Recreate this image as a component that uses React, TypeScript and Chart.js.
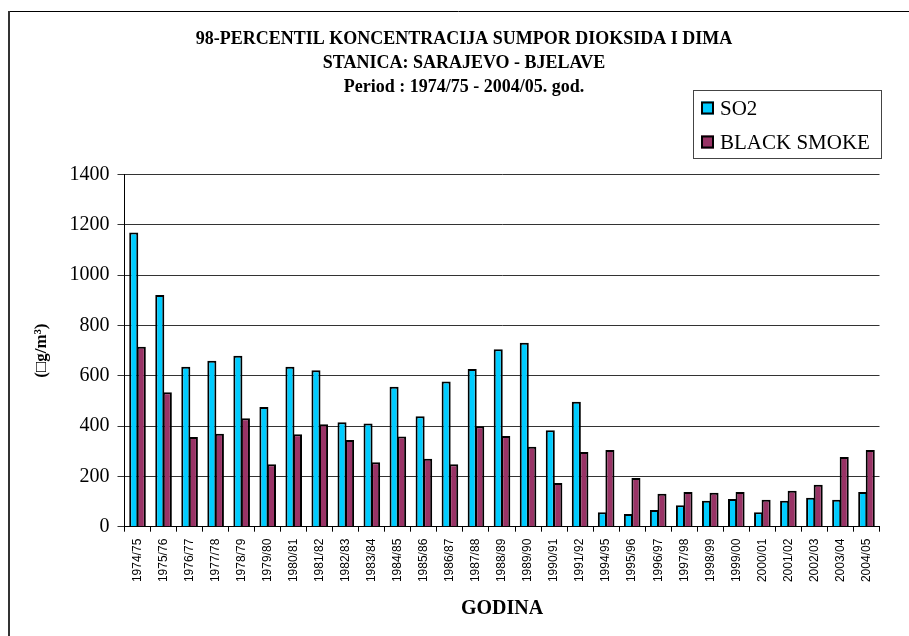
import React, { useEffect, useRef } from "react";
import { Chart, registerables } from "chart.js";

Chart.register(...registerables);

const categories = [
  "1974/75", "1975/76", "1976/77", "1977/78", "1978/79", "1979/80", "1980/81",
  "1981/82", "1982/83", "1983/84", "1984/85", "1985/86", "1986/87", "1987/88",
  "1988/89", "1989/90", "1990/91", "1991/92", "1994/95", "1995/96", "1996/97",
  "1997/98", "1998/99", "1999/00", "2000/01", "2001/02", "2002/03", "2003/04", "2004/05",
];

const so2Values = [
  1169, 921, 636, 660, 680, 476, 636, 622, 415, 410, 556, 439, 577, 627, 705,
  731, 383, 497, 57, 50, 66, 85, 103, 110, 57, 103, 115, 107, 138,
];

const smokeValues = [
  715, 534, 357, 369, 431, 248, 367, 407, 345, 256, 359, 270, 248, 399, 361,
  318, 174, 297, 305, 194, 131, 138, 135, 138, 107, 143, 167, 277, 305,
];

const seriesNames = ["SO2", "BLACK SMOKE"];
const seriesColors = ["#00CCFF", "#993366"];

const titleLines = [
  "98-PERCENTIL KONCENTRACIJA SUMPOR DIOKSIDA I DIMA",
  "STANICA: SARAJEVO - BJELAVE",
  "Period : 1974/75 - 2004/05. god.",
];
const yAxisTitle = "(\u25A1g/m\u00B3)";
const xAxisTitle = "GODINA";

const SERIF = '"Liberation Serif", "Times New Roman", serif';
const SANS = '"Liberation Sans", Arial, sans-serif';

const framePlugin = {
  id: "frameAndLegend",
  beforeDraw(chart: any) {
    const ctx = chart.ctx;
    ctx.save();
    ctx.fillStyle = "#ffffff";
    ctx.fillRect(0, 0, chart.width, chart.height);
    ctx.restore();
  },
  afterDraw(chart: any) {
    const ctx = chart.ctx;
    ctx.save();
    // outer frame (top & left edges visible)
    ctx.strokeStyle = "#000";
    ctx.lineWidth = 1;
    ctx.beginPath();
    ctx.moveTo(8, 11.5);
    ctx.lineTo(chart.width, 11.5);
    ctx.stroke();
    ctx.strokeStyle = "#333";
    ctx.lineWidth = 2;
    ctx.beginPath();
    ctx.moveTo(9, 11);
    ctx.lineTo(9, chart.height);
    ctx.stroke();

    // legend box
    const bx = 693.5, by = 90.5, bw = 188, bh = 68;
    ctx.fillStyle = "#fff";
    ctx.fillRect(bx, by, bw, bh);
    ctx.strokeStyle = "#444";
    ctx.lineWidth = 1;
    ctx.strokeRect(bx, by, bw, bh);
    chart.data.datasets.forEach((ds: any, i: number) => {
      const cy = 108 + i * 34;
      ctx.fillStyle = ds.backgroundColor;
      ctx.fillRect(701, cy - 6.5, 13, 13);
      ctx.strokeStyle = "#000";
      ctx.lineWidth = 2;
      ctx.strokeRect(702, cy - 5.5, 11, 11);
      ctx.fillStyle = "#000";
      ctx.font = "21px " + SERIF;
      ctx.textBaseline = "middle";
      ctx.textAlign = "left";
      ctx.fillText(ds.label, 720, cy + 1);
    });
    ctx.restore();
  },
};

export default function App() {
  const canvasRef = useRef<HTMLCanvasElement | null>(null);

  useEffect(() => {
    const canvas = canvasRef.current;
    if (!canvas) return;
    const chart = new Chart(canvas, {
      type: "bar",
      data: {
        labels: categories,
        datasets: [
          {
            label: seriesNames[0],
            data: so2Values,
            backgroundColor: seriesColors[0],
            borderColor: "#000",
            borderWidth: 2,
            barPercentage: 1.2,
            categoryPercentage: 0.58,
          },
          {
            label: seriesNames[1],
            data: smokeValues,
            backgroundColor: seriesColors[1],
            borderColor: "#000",
            borderWidth: 2,
            barPercentage: 1.2,
            categoryPercentage: 0.58,
          },
        ],
      },
      options: {
        responsive: false,
        animation: false,
        devicePixelRatio: 1,
        layout: { padding: { left: 48.5, right: 29.5, top: 12, bottom: 0 } },
        plugins: {
          legend: { display: false },
          tooltip: { enabled: false },
          title: {
            display: true,
            text: titleLines,
            color: "#000",
            font: { family: SERIF, size: 18, weight: "bold", lineHeight: 24 / 18 },
            padding: { top: 15.5, bottom: 75 },
          },
        },
        scales: {
          x: {
            afterFit: (s: any) => {
              s.height = 109.3;
            },
            grid: {
              display: true,
              drawOnChartArea: false,
              drawTicks: true,
              tickLength: 5,
              color: "#000",
              offset: true,
            },
            border: { color: "#000", width: 1 },
            ticks: {
              autoSkip: false,
              minRotation: 90,
              maxRotation: 90,
              padding: 7,
              color: "#000",
              font: { family: SANS, size: 12 },
            },
            title: {
              display: true,
              text: xAxisTitle,
              color: "#000",
              font: { family: SERIF, size: 20, weight: "bold", lineHeight: 1.2 },
              padding: { top: 0, bottom: 14.7 },
            },
          },
          y: {
            min: 0,
            max: 1400,
            afterFit: (s: any) => {
              s.width = 76;
            },
            grid: {
              color: "#333",
              lineWidth: 1,
              tickLength: 7,
              drawTicks: true,
            },
            border: { color: "#000", width: 1 },
            ticks: {
              stepSize: 200,
              padding: 8,
              color: "#000",
              font: { family: SERIF, size: 20 },
              callback: (v: any) => String(v),
            },
            title: {
              display: true,
              text: yAxisTitle,
              color: "#000",
              font: { family: SERIF, size: 17, weight: "bold", lineHeight: 1.2 },
              padding: { top: -17, bottom: 0 },
            },
          },
        },
      },
      plugins: [framePlugin],
    } as any);
    return () => chart.destroy();
  }, []);

  return (
    <div style={{ position: "absolute", left: 0, top: 0, width: 909, height: 636, background: "#fff" }}>
      <canvas ref={canvasRef} width={909} height={636} style={{ display: "block", width: 909, height: 636 }} />
    </div>
  );
}
